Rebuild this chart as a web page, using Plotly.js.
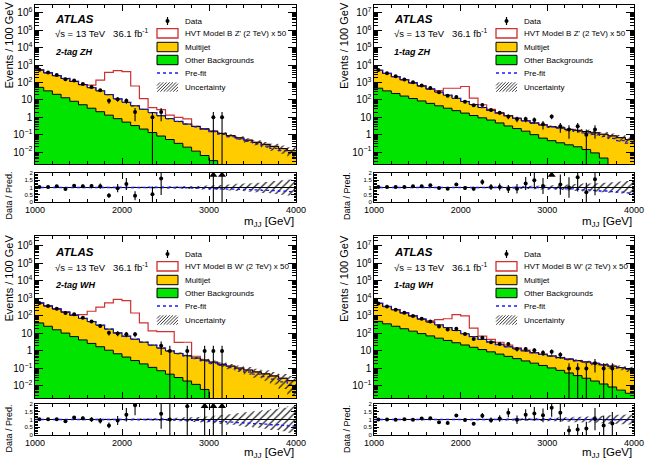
<!DOCTYPE html>
<html><head><meta charset="utf-8">
<script src="https://cdn.plot.ly/plotly-3.0.1.min.js"></script>
<style>html,body{margin:0;padding:0;background:#fff;}#chart{width:646px;height:465px;}</style>
</head><body><div id="chart"></div>
<script>
// ---------------- data (bins of 100 GeV in m_JJ) ----------------
const massEdges = [1000,1100,1200,1300,1400,1500,1600,1700,1800,1900,2000,2100,2200,2300,2400,2500,2600,2700,2800,2900,3000,3100,3200,3300,3400,3500,3600,3700,3800,3900,4000];

// 2-tag ZH
const zh2Other = [52.5,33.1,20.9,13.2,8.3,5.25,3.31,2.09,1.32,0.83,0.525,0.331,0.209,0.132,0.083,0.0525,0.0316,0.019,0.0112,0.0063,0.0032,0.0016,0.0008,0.0004,0.0002,0.0001,0.00006,0.00004,0.00003,0.00002];
const zh2Multijet = [472,330,230,157,107,70.7,46.8,31.0,18.7,10.7,6.7,4.24,2.67,1.73,1.15,0.78,0.543,0.388,0.284,0.208,0.155,0.115,0.086,0.065,0.048,0.036,0.0275,0.0209,0.0158,0.012];
const zh2Signal = [0,0,0,0,0,0,20.7,105,360,467,410,58.4,8.8,1.7,1.5,0.5,0.4,0.4,0,0,0,0,0,0,0,0,0,0,0,0];
const zh2Data = [541,374,271,153,130,82,55,36,9,11,9,2,null,1,2,null,null,null,null,null,1,1,null,null,null,null,null,null,null,null];
const zh2PrefitRatio = [1,1,1,1,1,1,1,1,1,1,1,1,1,1,1,1,1,0.98,0.96,0.95,0.93,0.91,0.89,0.87,0.85,0.83,0.8,0.78,0.75,0.72];
const zh2RelUnc = [0.03,0.03,0.03,0.03,0.035,0.035,0.04,0.04,0.045,0.05,0.05,0.055,0.06,0.065,0.07,0.08,0.09,0.1,0.11,0.13,0.15,0.18,0.21,0.25,0.29,0.33,0.38,0.44,0.5,0.56];

// 1-tag ZH
const zh1Other = [468,331,234,166,120,87,63,45.7,33.1,24.0,17.4,12.6,9.3,6.9,4.7,3.16,2.24,1.58,1.0,0.63,0.45,0.34,0.26,0.2,0.14,0.089,0.045,0.016,0.006,0.0025];
const zh1Multijet = [4544,2980,1954,1279,835,544,354,236,153,99,63.9,41.1,27.0,18.2,12.7,9.14,6.47,4.73,3.68,3.0,2.43,2.16,1.74,1.55,1.36,1.19,1.005,0.834,0.664,0.518];
const zh1Signal = [0,0,0,0,0,5,20,65,282,345,508,72,16,3,1,0,0,0,0,0,0,0,0,0,0,0,0,0,0,0];
const zh1Data = [5162,3410,2254,1488,1031,681,480,274,171,148,79,49,50,26,18,11,8,8,7,4,11,3,2,3,1,2,null,null,null,null];
const zh1PrefitRatio = [1,1,1,1,1,1,1,1,1,1,1,1,1,1,1,1,1,1,1,0.98,0.96,0.94,0.91,0.88,0.84,0.8,0.76,0.72,0.68,0.63];
const zh1RelUnc = [0.02,0.02,0.02,0.02,0.025,0.025,0.03,0.03,0.035,0.04,0.045,0.05,0.055,0.06,0.07,0.08,0.09,0.1,0.12,0.14,0.16,0.18,0.21,0.24,0.27,0.3,0.33,0.37,0.41,0.45];

// 2-tag WH
const wh2Other = [39.8,25.7,16.2,10.5,6.61,4.27,2.69,1.74,1.10,0.69,0.447,0.282,0.182,0.115,0.0741,0.0468,0.0302,0.0191,0.0123,0.0063,0.0016,0.0006,0.0003,0.0001,0.0001,0.00005,0.00005,0.00003,0.00002,0.00001];
const wh2Multijet = [510,346,235,156,103,68.1,45.2,27.8,16.7,10.0,6.47,4.40,2.98,2.03,1.38,0.953,0.694,0.518,0.386,0.296,0.227,0.173,0.135,0.105,0.0813,0.0631,0.049,0.0372,0.0275,0.02];
const wh2Signal = [0,0,0,0,3,48,138,287,544,880,752,143,36.6,12,11.1,11.6,2.4,2.6,0.1,0,0,0,0,0,0,0,0,0,0,0];
const wh2Data = [556,376,254,149,124,78,48,27,11,10,9,9,null,null,2,1,null,1,null,1,1,1,null,null,null,null,null,null,null,null];
const wh2PrefitRatio = [1,1,1,1,1,1,1,1,1,1,1,1,1,1,1,1,0.98,0.96,0.94,0.92,0.89,0.86,0.83,0.8,0.77,0.74,0.7,0.66,0.62,0.58];
const wh2RelUnc = [0.03,0.03,0.03,0.035,0.035,0.04,0.04,0.045,0.05,0.055,0.06,0.065,0.07,0.08,0.09,0.1,0.12,0.14,0.16,0.2,0.24,0.29,0.34,0.4,0.46,0.53,0.6,0.68,0.76,0.85];

// 1-tag WH
const wh1Other = [490,355,257,186,135,97.7,72.4,53.7,39.8,29.5,21.9,16.2,12.0,8.91,6.61,4.90,3.63,2.69,2.0,1.48,1.07,0.776,0.55,0.389,0.275,0.191,0.129,0.087,0.0575,0.038];
const wh1Multijet = [4758,3112,2034,1328,865,563,375,255,174,118,73.6,49.9,33.7,23.5,16.8,12.5,9.57,7.31,5.94,4.83,4.06,3.39,2.84,2.43,2.07,1.76,1.49,1.26,1.06,0.895];
const wh1Signal = [0,0,0,0,0,10,78,308,478,1054,905,134,25,13,8,4,2,1,0,0,0,0,0,0,0,0,0,0,0,0];
const wh1Data = [5221,3489,2270,1530,987,701,483,253,167,185,92,48,57,31,25,25,13,13,11,8,9,6,1,1,1,2,1,1,null,null];
const wh1PrefitRatio = [1,1,1,1,1,1,1,1,1,1,1,1,1,1,1,1,1,1,1,1,1,1,1,1,1,1,0.99,0.98,0.97,0.96];
const wh1RelUnc = [0.02,0.02,0.02,0.02,0.02,0.025,0.025,0.03,0.03,0.035,0.04,0.045,0.05,0.055,0.06,0.065,0.07,0.08,0.09,0.1,0.11,0.13,0.15,0.17,0.19,0.21,0.24,0.27,0.3,0.33];

const channelLabels = ['2-tag ZH','1-tag ZH','2-tag WH','1-tag WH'];
const signalLabels = ["HVT Model B Z' (2 TeV) x 50","HVT Model B Z' (2 TeV) x 50","HVT Model B W' (2 TeV) x 50","HVT Model B W' (2 TeV) x 50"];
const legendLabels = ['Data', null, 'Multijet', 'Other Backgrounds', 'Pre-fit', 'Uncertainty'];
const xTickVals = [1000,2000,3000,4000];
const ratioTickVals = [0,0.5,1,1.5,2];
const ratioTickText = ['0','0.5','1','1.5','2'];

// ---------------- style ----------------
const W = 646, H = 465;
const FONT = 'Liberation Sans, Arial, Helvetica, sans-serif';
const GREEN = '#00e400', ORANGE = '#ffcc00', RED = '#d03030', BLUE = '#1a1aff';
const px = v => v / W;
const py = v => 1 - v / H;

const panels = [
  {other:zh2Other, mj:zh2Multijet, sig:zh2Signal, data:zh2Data, pre:zh2PrefitRatio, unc:zh2RelUnc, col:0, row:0, yr:[-2.69,6.46]},
  {other:zh1Other, mj:zh1Multijet, sig:zh1Signal, data:zh1Data, pre:zh1PrefitRatio, unc:zh1RelUnc, col:1, row:0, yr:[-1.69,7.46]},
  {other:wh2Other, mj:wh2Multijet, sig:wh2Signal, data:wh2Data, pre:wh2PrefitRatio, unc:wh2RelUnc, col:0, row:1, yr:[-2.69,6.57]},
  {other:wh1Other, mj:wh1Multijet, sig:wh1Signal, data:wh1Data, pre:wh1PrefitRatio, unc:wh1RelUnc, col:1, row:1, yr:[-1.69,7.57]}
];
// pixel frames
const colX = [[35,296],[374,634]];
const rowMain = [[5,164],[236,398]];
const rowRatio = [[173,202],[404,435]];

const centers = massEdges.slice(0,-1).map((e,i)=>(e+massEdges[i+1])/2);
const step = v => v.concat([v[v.length-1]]);
const RMAX = 2.0;

const traces = [];
const layout = {
  width: W, height: H, margin:{l:0,r:0,t:0,b:0}, showlegend:false,
  paper_bgcolor:'#fff', plot_bgcolor:'#fff', font:{family:FONT, color:'#000'},
  annotations:[], shapes:[]
};

function axX(domain, anchor, labels){
  return {domain, anchor, range:[1000,4000], showline:true, linecolor:'#000', linewidth:1,
    mirror:'allticks', ticks:'inside', ticklen:6, tickwidth:1, tickcolor:'#000',
    tickmode:'array', tickvals:xTickVals, showgrid:false, zeroline:false,
    showticklabels:labels, ticklabelstandoff:-1, tickfont:{family:FONT,size:9,color:'#000'},
    minor:{ticks:'inside', ticklen:3, dtick:200, tick0:1000, tickcolor:'#000', showgrid:false}};
}

panels.forEach((p, k) => {
  const n = 2*k+1;
  const xm = n===1?'x':'x'+n, ym = n===1?'y':'y'+n;
  const xr = 'x'+(n+1), yr = 'y'+(n+1);
  const xd = [px(colX[p.col][0]), px(colX[p.col][1])];
  const ydm = [py(rowMain[p.row][1]), py(rowMain[p.row][0])];
  const ydr = [py(rowRatio[p.row][1]), py(rowRatio[p.row][0])];
  const keyXm = n===1?'xaxis':'xaxis'+n, keyYm = n===1?'yaxis':'yaxis'+n;
  layout[keyXm] = axX(xd, ym, false);
  layout['xaxis'+(n+1)] = axX(xd, yr, true);
  layout[keyYm] = {domain:ydm, anchor:xm, type:'log', range:p.yr, showline:true, linecolor:'#000', linewidth:1,
    mirror:'allticks', ticks:'inside', ticklen:8, tickcolor:'#000', dtick:1, exponentformat:'power',
    showgrid:false, zeroline:false, tickfont:{family:FONT,size:8,color:'#000'},
    minor:{ticks:'inside', ticklen:4, dtick:'D1', tickcolor:'#000', showgrid:false}};
  layout['yaxis'+(n+1)] = {domain:ydr, anchor:xr, range:[0,2], showline:true, linecolor:'#000', linewidth:1,
    mirror:'allticks', ticks:'inside', ticklen:5, tickcolor:'#000', tickmode:'array', tickvals:ratioTickVals, ticktext:ratioTickText,
    showgrid:false, zeroline:false, tickfont:{family:FONT,size:6,color:'#000'},
    minor:{ticks:'inside', ticklen:2.5, dtick:0.1, tick0:0, tickcolor:'#000', showgrid:false}};

  const total = p.other.map((v,i)=>v+p.mj[i]);
  const sigTot = total.map((v,i)=>v+p.sig[i]);
  const prefit = total.map((v,i)=>v*p.pre[i]);
  const lo = total.map((v,i)=>v*(1-p.unc[i]));
  const hi = total.map((v,i)=>v*(1+p.unc[i]));
  const base = {xaxis:xm, yaxis:ym, type:'scatter', mode:'lines', hoverinfo:'skip', x:massEdges};

  traces.push(Object.assign({}, base, {y:step(p.other), line:{shape:'hv',color:'#000',width:1}, fill:'tozeroy', fillcolor:GREEN}));
  traces.push(Object.assign({}, base, {y:step(total), line:{shape:'hv',color:'rgba(0,0,0,0)',width:0}, fill:'tonexty', fillcolor:ORANGE}));
  traces.push(Object.assign({}, base, {y:step(sigTot), line:{shape:'hv',color:RED,width:1.2}}));
  traces.push(Object.assign({}, base, {y:step(total), line:{shape:'hv',color:'#000',width:1}}));
  traces.push(Object.assign({}, base, {y:step(prefit), line:{shape:'hv',color:BLUE,width:1.3,dash:'dot'}}));
  traces.push(Object.assign({}, base, {y:step(lo), line:{shape:'hv',width:0,color:'rgba(0,0,0,0)'}}));
  traces.push(Object.assign({}, base, {y:step(hi), line:{shape:'hv',width:0,color:'rgba(0,0,0,0)'}, fill:'tonexty', fillcolor:'rgba(0,0,0,0)',
    fillpattern:{shape:'/', fgcolor:'#222', bgcolor:'rgba(0,0,0,0)', size:5, solidity:0.25}}));

  // data
  const dx=[], dy=[], de=[], dem=[];
  p.data.forEach((d,i)=>{ if(d!==null){ const e=Math.sqrt(d); dx.push(centers[i]); dy.push(d); de.push(e); dem.push(Math.min(e, d*0.9999)); } });
  traces.push({xaxis:xm, yaxis:ym, type:'scatter', mode:'markers', hoverinfo:'skip', x:dx, y:dy,
    marker:{symbol:'circle', size:4, color:'#000'},
    error_y:{type:'data', symmetric:false, array:de, arrayminus:dem, color:'#000', thickness:1.1, width:0}});

  // ratio panel
  const rbase = {xaxis:xr, yaxis:yr, type:'scatter', mode:'lines', hoverinfo:'skip', x:massEdges};
  traces.push(Object.assign({}, rbase, {y:step(p.unc.map(u=>1-u)), line:{shape:'hv',width:0,color:'rgba(0,0,0,0)'}}));
  traces.push(Object.assign({}, rbase, {y:step(p.unc.map(u=>1+u)), line:{shape:'hv',width:0,color:'rgba(0,0,0,0)'}, fill:'tonexty', fillcolor:'rgba(0,0,0,0)',
    fillpattern:{shape:'/', fgcolor:'#222', bgcolor:'rgba(0,0,0,0)', size:5, solidity:0.25}}));
  traces.push(Object.assign({}, rbase, {x:[1000,4000], y:[1,1], line:{color:'#000',width:1}}));
  traces.push(Object.assign({}, rbase, {y:step(p.pre), line:{shape:'hv',color:BLUE,width:1.3,dash:'dot'}}));
  const rx=[], ry=[], re=[], rem=[], ax=[], ay=[], aem=[];
  p.data.forEach((d,i)=>{ if(d===null) return; const r=d/total[i], e=Math.sqrt(d)/total[i];
    if(r<=RMAX){ rx.push(centers[i]); ry.push(r); re.push(e); rem.push(Math.min(e,r)); }
    else { const top=1.86; ax.push(centers[i]); ay.push(top); aem.push(top-Math.max(0,r-e)); } });
  traces.push({xaxis:xr, yaxis:yr, type:'scatter', mode:'markers', hoverinfo:'skip', x:rx, y:ry,
    marker:{symbol:'circle', size:4, color:'#000'},
    error_y:{type:'data', symmetric:false, array:re, arrayminus:rem, color:'#000', thickness:1.1, width:0}});
  if(ax.length) traces.push({xaxis:xr, yaxis:yr, type:'scatter', mode:'markers', hoverinfo:'skip', x:ax, y:ay,
    marker:{symbol:'triangle-up', size:7, color:'#000'},
    error_y:{type:'data', symmetric:false, array:ax.map(()=>0), arrayminus:aem, color:'#000', thickness:1.1, width:0}});

  // ---- texts ----
  const ox = p.col*339, oy = p.row*233;
  const A = (x,y,text,size,opts) => layout.annotations.push(Object.assign({xref:'paper',yref:'paper',x:px(x),y:py(y),text,showarrow:false,
      xanchor:'left',yanchor:'middle',font:{family:FONT,size,color:'#000'}}, opts||{}));
  A(53+ox, 19+oy, '<b><i>ATLAS</i></b>', 11.5);
  A(53+ox, 33.5+oy, '√s = 13 TeV   36.1 fb<sup>-1</sup>', 9.5);
  A(53+ox, 52+oy, '<b><i>'+channelLabels[k]+'</i></b>', 9);
  // axis titles
  A(p.col?343.5:8, 45.5+oy, 'Events / 100 GeV', 11, {xanchor:'center', textangle:-90});
  A(p.col?347:8.5, 196+oy, 'Data / Pred.', 9, {xanchor:'center', textangle:-90});
  A(colX[p.col][1], 222+p.row*231, 'm<sub>JJ</sub> [GeV]', 11.5, {xanchor:'right'});
  // legend
  const lx0 = 157+ox, lx1 = 178+ox, tx = 183+ox;
  const rows = [21, 33.3, 47, 60, 73, 87].map(v=>v+oy);
  const texts = legendLabels.slice(); texts[1] = signalLabels[k];
  rows.forEach((r,j)=> A(tx, r, texts[j], 8));
  const S = layout.shapes;
  const cx = (lx0+lx1)/2;
  S.push({type:'line', xref:'paper', yref:'paper', x0:px(cx), x1:px(cx), y0:py(rows[0]-4), y1:py(rows[0]+4), line:{color:'#000',width:1.2}});
  S.push({type:'circle', xref:'paper', yref:'paper', x0:px(cx-2), x1:px(cx+2), y0:py(rows[0]+2), y1:py(rows[0]-2), fillcolor:'#000', line:{color:'#000',width:0}});
  const box = (r, fill, lc, lw) => S.push({type:'rect', xref:'paper', yref:'paper', x0:px(lx0), x1:px(lx1), y0:py(r+4.7), y1:py(r-4.7), fillcolor:fill, line:{color:lc,width:lw}});
  box(rows[1], '#fff', RED, 1.3);
  box(rows[2], ORANGE, '#000', 1);
  box(rows[3], GREEN, '#000', 1);
  S.push({type:'line', xref:'paper', yref:'paper', x0:px(lx0), x1:px(lx1), y0:py(rows[4]), y1:py(rows[4]), line:{color:BLUE,width:1.3,dash:'dot'}});
  // hatch box
  const hy0 = rows[5]+4.7, hy1 = rows[5]-4.7, hh = hy0-hy1;
  let path = '';
  for(let s=-hh; s<(lx1-lx0); s+=3.2){
    let xa = lx0+s, ya = hy0, xb = lx0+s+hh, yb = hy1;
    if(xa<lx0){ ya = hy0-(lx0-xa); xa = lx0; }
    if(xb>lx1){ yb = hy1+(xb-lx1); xb = lx1; }
    path += 'M'+px(xa)+','+py(ya)+'L'+px(xb)+','+py(yb);
  }
  S.push({type:'path', xref:'paper', yref:'paper', path, line:{color:'#222',width:0.9}});
});

Plotly.newPlot('chart', traces, layout, {staticPlot:true, displayModeBar:false});
</script></body></html>
